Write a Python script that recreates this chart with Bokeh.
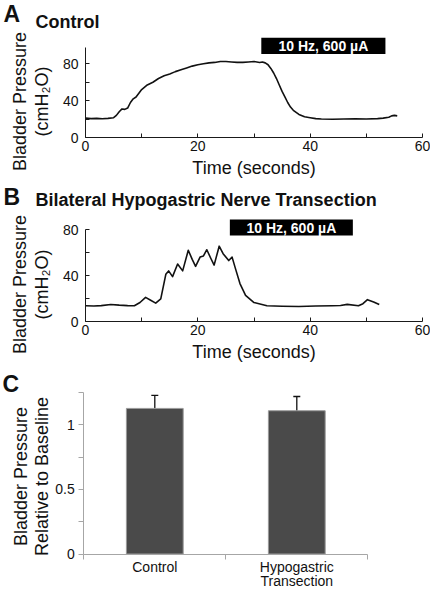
import math
from bokeh.plotting import figure
from bokeh.layouts import column
from bokeh.models import Range1d, FixedTicker, ColumnDataSource, Whisker, TeeHead
from bokeh.core.properties import value
from bokeh.embed import file_html
from bokeh.resources import INLINE

FONT = "Liberation Sans"

# ---------------- data ----------------
# Panel A: control bladder pressure trace (s, cmH2O)
ctrl_time = [0, 1, 2, 3, 4, 5, 5.5, 6, 6.5, 7, 7.5, 8, 8.5, 9, 10, 11, 12, 13, 14, 15,
             16, 17, 18, 19, 20, 21, 22, 23, 24, 25, 26, 27, 28, 29, 30, 31, 31.5, 32,
             32.5, 33, 33.5, 34, 34.5, 35, 35.5, 36, 36.5, 37, 38, 39, 40, 41, 42, 44,
             46, 48, 50, 52, 53, 54, 54.5, 55, 55.5]
ctrl_pressure = [21, 20.5, 20.8, 20.3, 20.8, 21.5, 24, 28, 31, 30.5, 32, 38, 42, 44, 52,
                 57, 60, 64, 67, 69, 71.5, 73.5, 75.5, 77.5, 79, 80, 81, 81.5, 82.5, 82.5,
                 82, 81.5, 81.5, 82, 82.5, 81.5, 82, 81, 79, 75, 70, 64, 57, 50, 44, 38,
                 33, 29.5, 25, 22.5, 21.5, 20.5, 20, 19.8, 20, 20.2, 20.1, 20.5, 21, 22,
                 23.5, 24, 23.5]
ctrl_stim = [31.3, 53.4]

# Panel B: bilateral hypogastric nerve transection trace
hgn_time = [0, 1.5, 2.8, 4.5, 6, 7.5, 8.7, 9.7, 10.7, 11.6, 12.5, 13.4, 14.3, 14.8,
            15.5, 16.4, 17.3, 18.3, 19.0, 19.6, 20.4, 21.0, 21.6, 22.3, 22.9, 23.8,
            24.5, 25.5, 26.1, 26.7, 27.5, 28.5, 30, 32.3, 35, 38, 41, 44, 45.4, 46.6,
            48.6, 49.4, 50.2, 51.3, 52.3]
hgn_pressure = [13.7, 13.5, 13.8, 14.8, 14.2, 13.8, 13.7, 16.5, 21.0, 18.5, 16.0, 19.7,
                41.0, 44.0, 39.0, 50.0, 44.0, 62.0, 54.0, 48.0, 56.0, 57.0, 62.4, 55.0,
                49.0, 65.5, 59.0, 53.0, 56.0, 46.0, 33.0, 22.8, 16.5, 13.7, 13.3, 13.1,
                13.5, 13.7, 13.9, 14.9, 13.7, 15.5, 19.0, 17.0, 14.7]
hgn_stim = [25.7, 47.6]
stim_text = "10 Hz, 600 µA"

time_ticks = [0, 20, 40, 60]
time_minor = [10, 30, 50]
trace_yticks = [0, 40, 80]
trace_yminor = [20, 60]

# Panel C: bladder pressure relative to baseline
bar_groups = ["Control", "Hypogastric\nTransection"]
bar_means = [1.126, 1.108]
bar_err = [0.101, 0.110]
c_yticks = [0, 0.5, 1]
c_ytick_labels = ["0", "0.5", "1"]
c_yminor = [0.25, 0.75, 1.25]

# ---------------- layout helpers ----------------
W = 430
INK = "#111111"


class Panel:
    """A figure whose frame fills the whole canvas; page px <-> data via its ranges."""

    def __init__(self, top, height, x0_px, x_scale, y0_px, y_scale):
        self.top, self.h = top, height
        self.x0, self.sx, self.y0, self.sy = x0_px, x_scale, y0_px, y_scale
        xr = Range1d(-x0_px / x_scale, (W - x0_px) / x_scale)
        yr = Range1d(-(top + height - y0_px) / y_scale, (y0_px - top) / y_scale)
        p = figure(width=W, height=height, x_range=xr, y_range=yr,
                   output_backend="svg", toolbar_location=None,
                   min_border_left=0, min_border_right=0, min_border_top=0,
                   min_border_bottom=0, outline_line_color=None,
                   background_fill_color="white", border_fill_color="white")
        p.title.visible = False
        p.xgrid.visible = False
        p.ygrid.visible = False
        self.p = p

    def x(self, px):
        return (px - self.x0) / self.sx

    def y(self, py):
        return (self.y0 - py) / self.sy

    def text(self, px, py, txt, size, bold=False, align="left", baseline="middle",
             angle=0.0, color=INK):
        self.p.text(x=[self.x(px)], y=[self.y(py)], text=[txt], angle=angle,
                    text_font=value(FONT), text_font_size=size,
                    text_font_style="bold" if bold else "normal", text_color=color,
                    text_align=align, text_baseline=baseline)


def style_axes(p, color, tick_in, tick_out):
    for ax in (p.xaxis[0], p.yaxis[0]):
        ax.fixed_location = 0
        ax.axis_line_color = color
        ax.axis_line_width = 1
        ax.major_tick_line_color = color
        ax.minor_tick_line_color = color
        ax.major_tick_in = tick_in
        ax.major_tick_out = tick_out
        ax.minor_tick_in = tick_in
        ax.minor_tick_out = tick_out
        ax.major_label_text_font = FONT
        ax.major_label_text_font_size = "14px"
        ax.major_label_text_color = INK


def trace_panel(letter, title, t, pres, stim, top, height, y0_px, y80_px, y_bound,
                letter_cy, title_cy, ylab_cy, stim_top_px, stim_bot_px):
    x0_px = 85
    x_scale = (422 - x0_px) / 60.0
    y_scale = (y0_px - y80_px) / 80.0
    P = Panel(top, height, x0_px, x_scale, y0_px, y_scale)
    p = P.p

    p.line(t, pres, line_color=INK, line_width=1.6, line_join="round")

    # stimulation period bar
    p.quad(left=[stim[0]], right=[stim[1]], bottom=[P.y(stim_bot_px)],
           top=[P.y(stim_top_px)], fill_color="black", line_color=None)
    p.text(x=[(stim[0] + stim[1]) / 2], y=[P.y((stim_top_px + stim_bot_px) / 2 + 0.5)],
           text=[stim_text], text_font=value(FONT), text_font_size="14px",
           text_font_style="bold", text_color="white", text_align="center",
           text_baseline="middle")

    style_axes(p, "#1a1a1a", 4, 0)
    xa, ya = p.xaxis[0], p.yaxis[0]
    xa.ticker = FixedTicker(ticks=time_ticks, minor_ticks=time_minor)
    ya.ticker = FixedTicker(ticks=trace_yticks, minor_ticks=trace_yminor)
    xa.bounds = (0, 60)
    ya.bounds = (0, y_bound)
    xa.major_label_standoff = 3
    ya.major_label_standoff = 7
    xa.axis_label = "Time (seconds)"
    xa.axis_label_text_font = FONT
    xa.axis_label_text_font_size = "18px"
    xa.axis_label_text_font_style = "normal"
    xa.axis_label_text_color = INK
    xa.axis_label_standoff = 4

    P.text(3, letter_cy, letter, "23px", bold=True)
    P.text(35, title_cy, title, "18px", bold=True)
    P.text(19.5, ylab_cy, "Bladder Pressure", "18px", align="center",
           angle=math.pi / 2)
    P.text(41.5, ylab_cy, "(cmH\u2082O)", "18px", align="center",
           angle=math.pi / 2)
    return p


pA = trace_panel("A", "Control", ctrl_time, ctrl_pressure, ctrl_stim,
                 top=0, height=184, y0_px=137, y80_px=63.3, y_bound=98,
                 letter_cy=13, title_cy=21, ylab_cy=101,
                 stim_top_px=37.3, stim_bot_px=53.5)
pB = trace_panel("B", "Bilateral Hypogastric Nerve Transection", hgn_time, hgn_pressure,
                 hgn_stim, top=184, height=184, y0_px=321, y80_px=229, y_bound=80,
                 letter_cy=196.5, title_cy=199, ylab_cy=284,
                 stim_top_px=219, stim_bot_px=235)

# ---------------- panel C ----------------
c0_px, c2_px = 83.3, 367.3
cy0_px, cy1_px = 553.5, 424.2
C = Panel(368, 222, c0_px, (c2_px - c0_px) / len(bar_groups), cy0_px, cy0_px - cy1_px)
pC = C.p

positions = [i + 0.5 for i in range(len(bar_groups))]
src = ColumnDataSource(dict(x=positions, top=bar_means,
                            upper=[m + e for m, e in zip(bar_means, bar_err)],
                            lower=[m - e for m, e in zip(bar_means, bar_err)]))
pC.vbar(x="x", top="top", width=0.4, source=src, fill_color="#4a4a4a",
        line_color="#9a9a9a", line_width=1)
pC.add_layout(Whisker(base="x", upper="upper", lower="lower", source=src,
                      line_color=INK, line_width=1.3,
                      upper_head=TeeHead(size=7, line_color=INK, line_width=1.3),
                      lower_head=TeeHead(size=7, line_color=INK, line_width=1.3)))

style_axes(pC, "#a6a6a6", 0, 5)
cxa, cya = pC.xaxis[0], pC.yaxis[0]
cxa.ticker = FixedTicker(ticks=positions, minor_ticks=list(range(len(bar_groups) + 1)))
cxa.major_tick_out = 0
cxa.bounds = (0, len(bar_groups))
cxa.major_label_overrides = {pos: g for pos, g in zip(positions, bar_groups)}
cxa.major_label_text_line_height = 0.88
cxa.major_label_standoff = 0
cya.ticker = FixedTicker(ticks=c_yticks, minor_ticks=c_yminor)
cya.bounds = (0, 1.25)
cya.major_label_overrides = {v: s for v, s in zip(c_yticks, c_ytick_labels)}
cya.major_label_standoff = 4

C.text(2, 383.5, "C", "23px", bold=True)
C.text(20.5, 476, "Bladder Pressure", "18px", align="center", angle=math.pi / 2)
C.text(41.5, 476, "Relative to Baseline", "18px", align="center", angle=math.pi / 2)

layout = column(pA, pB, pC, spacing=0)
open("out.html", "w").write(file_html(layout, INLINE))
